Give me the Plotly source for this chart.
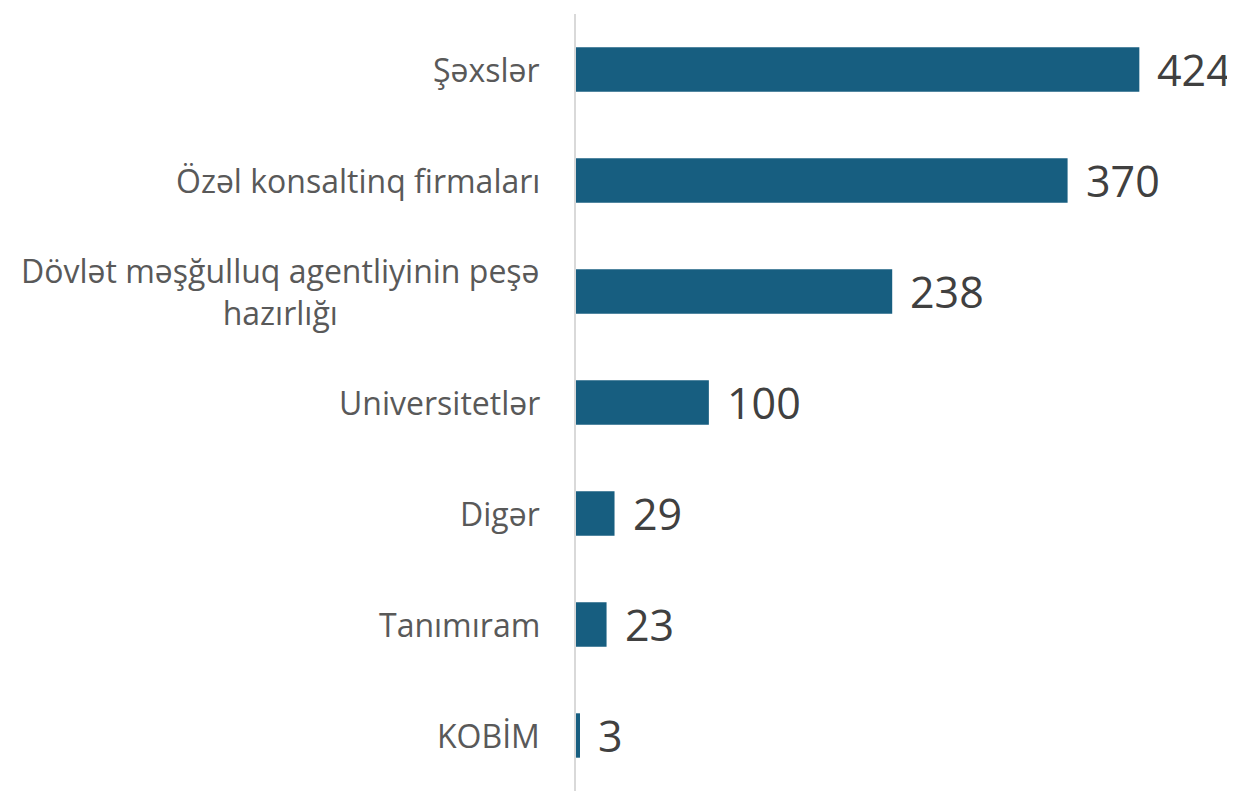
import plotly.graph_objects as go

categories = ["Şəxslər", "Özəl konsaltinq firmaları",
              "Dövlət məşğulluq agentliyinin peşə<br>hazırlığı",
              "Universitetlər", "Digər", "Tanımıram", "KOBİM"]
values = [424, 370, 238, 100, 29, 23, 3]

bar_color = "#175e80"

fig = go.Figure(go.Bar(
    x=values, y=categories, orientation="h",
    marker=dict(color=bar_color, line=dict(width=0)),
    hoverinfo="skip",
))

for c, v in zip(categories, values):
    fig.add_annotation(x=v, y=c, xref="x", yref="y", text=str(v),
                       xanchor="left", yanchor="middle", xshift=16, showarrow=False,
                       font=dict(family="Open Sans", size=43, color="#404040"))
    fig.add_annotation(x=0, y=c, xref="paper", yref="y", text=c,
                       xanchor="right", yanchor="middle", xshift=-34, showarrow=False,
                       align="center",
                       font=dict(family="Open Sans", size=32, color="#595959"))

fig.update_layout(
    width=1227, height=783,
    margin=dict(l=568, r=0, t=6, b=0),
    paper_bgcolor="white", plot_bgcolor="white",
    bargap=0.6, showlegend=False,
    xaxis=dict(range=[0, 496], showgrid=False, zeroline=False, showticklabels=False,
               showline=False),
    yaxis=dict(autorange="reversed", showticklabels=False, showgrid=False,
               showline=True, linecolor="#d9d9d9", linewidth=1.5, ticks=""),
)

fig.write_html("out.html")
